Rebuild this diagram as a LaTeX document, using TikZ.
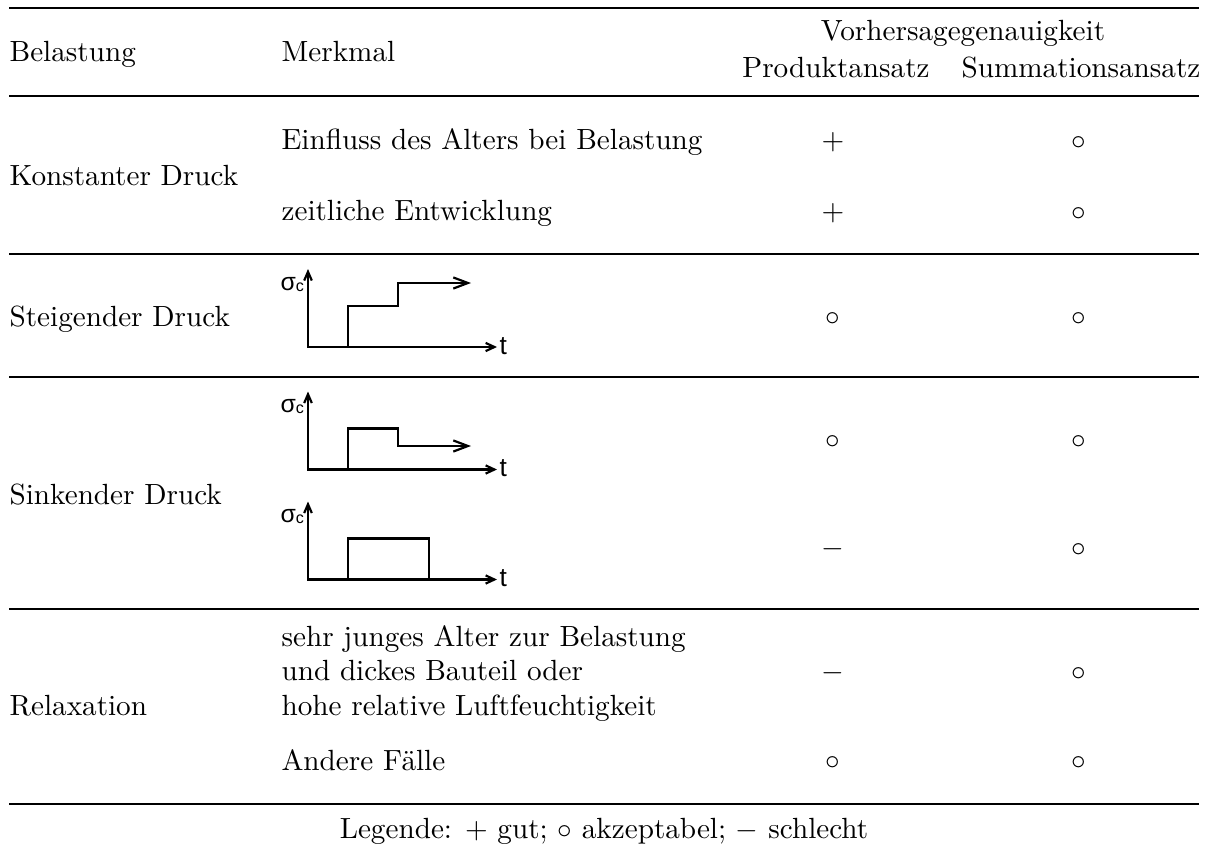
\documentclass[tikz,border=0pt]{standalone}
\usepackage{fontspec}
\newfontfamily\graphfont{Liberation Sans}
\usetikzlibrary{arrows.meta}
\tikzset{
  cell/.style={anchor=base west, inner sep=0pt},
  ctr/.style={anchor=base, inner sep=0pt},
  heavyrule/.style={line width=0.8pt},
  lightrule/.style={line width=0.5pt},
  axis/.style={line width=0.75pt, {Straight Barb[length=3pt,width=2.6pt]}-{Straight Barb[length=3pt,width=2.8pt]}},
  curve/.style={line width=0.75pt, -{Straight Barb[length=5pt,width=3.8pt]}},
  plainline/.style={line width=0.75pt},
  lbl/.style={anchor=base west, inner sep=0pt, font=\graphfont\fontsize{9}{10}\selectfont},
  sig/.style={anchor=base west, inner sep=0pt, font=\graphfont\fontsize{8.5}{10}\selectfont},
}
\newcommand{\sigc}{σ{\fontsize{5.5}{6}\selectfont\raisebox{-0.4pt}{c}}}
\begin{document}
\begin{tikzpicture}[x=0.3425pt,y=-0.3425pt]
\useasboundingbox (0,0) rectangle (1205,853);
% rules
\coordinate (r0l) at (9,8);   \coordinate (r0r) at (1199,8);
\coordinate (r1l) at (9,96);  \coordinate (r1r) at (1199,96);
\coordinate (r2l) at (9,254); \coordinate (r2r) at (1199,254);
\coordinate (r3l) at (9,377); \coordinate (r3r) at (1199,377);
\coordinate (r4l) at (9,609); \coordinate (r4r) at (1199,609);
\coordinate (r5l) at (9,804); \coordinate (r5r) at (1199,804);
\draw[heavyrule] (r0l) -- (r0r);
\draw[lightrule] (r1l) -- (r1r);
\draw[lightrule] (r2l) -- (r2r);
\draw[lightrule] (r3l) -- (r3r);
\draw[lightrule] (r4l) -- (r4r);
\draw[heavyrule] (r5l) -- (r5r);
% header
\node[cell] (hB) at (9,61) {Belastung};
\node[cell] (hM) at (281,61) {Merkmal};
\node[ctr] (hV) at (963,41) {Vorhersagegenauigkeit};
\node[ctr] (hP) at (836,78) {Produktansatz};
\node[ctr] (hS) at (1081,78) {Summationsansatz};
% row 1
\node[cell] (b1) at (9,185) {Konstanter Druck};
\node[cell] (m1a) at (281,149) {Einfluss des Alters bei Belastung};
\node[cell] (m1b) at (281,220) {zeitliche Entwicklung};
\node[ctr] (p1a) at (833,149) {$+$};
\node[ctr] (s1a) at (1079,149) {$\circ$};
\node[ctr] (p1b) at (833,220) {$+$};
\node[ctr] (s1b) at (1079,220) {$\circ$};
% row 2
\node[cell] (b2) at (9,326) {Steigender Druck};
\node[ctr] (p2) at (833,325) {$\circ$};
\node[ctr] (s2) at (1079,325) {$\circ$};
\draw[axis] (308,269) |- (497,347);
\node[lbl] (g1t) at (499,354) {t};
\node[sig] (g1s) at (280,290) {\sigc};
\draw[curve] (348,347) |- (398,306) |- (471,283);
% row 3
\node[cell] (b3) at (9,504) {Sinkender Druck};
\node[ctr] (p3a) at (833,448) {$\circ$};
\node[ctr] (s3a) at (1079,448) {$\circ$};
\node[ctr] (p3b) at (833,556) {$-$};
\node[ctr] (s3b) at (1079,556) {$\circ$};
\begin{scope}[shift={(0,122.5)}]
\draw[axis] (308,269) |- (497,347);
\node[lbl] (g2t) at (499,354) {t};
\node[sig] (g2s) at (280,290) {\sigc};
\draw[curve] (348,347) |- (398,306) |- (471,323.5);
\end{scope}
\begin{scope}[shift={(0,232.5)}]
\draw[axis] (308,269) |- (497,347);
\node[lbl] (g3t) at (499,354) {t};
\node[sig] (g3s) at (280,290) {\sigc};
\draw[plainline] (348,347) |- (429,306) -- (429,347);
\end{scope}
% row 4
\node[cell] (b4) at (9,715) {Relaxation};
\node[cell] (m4a) at (281,646) {sehr junges Alter zur Belastung};
\node[cell] (m4b) at (281,680) {und dickes Bauteil oder};
\node[cell] (m4c) at (281,715) {hohe relative Luftfeuchtigkeit};
\node[cell] (m4d) at (281,770) {Andere Fälle};
\node[ctr] (p4a) at (833,680) {$-$};
\node[ctr] (s4a) at (1079,680) {$\circ$};
\node[ctr] (p4b) at (833,769) {$\circ$};
\node[ctr] (s4b) at (1079,769) {$\circ$};
% legend
\node[ctr] (leg) at (604,838) {Legende: $+$ gut; $\circ$ akzeptabel; $-$ schlecht};
\end{tikzpicture}
\end{document}
